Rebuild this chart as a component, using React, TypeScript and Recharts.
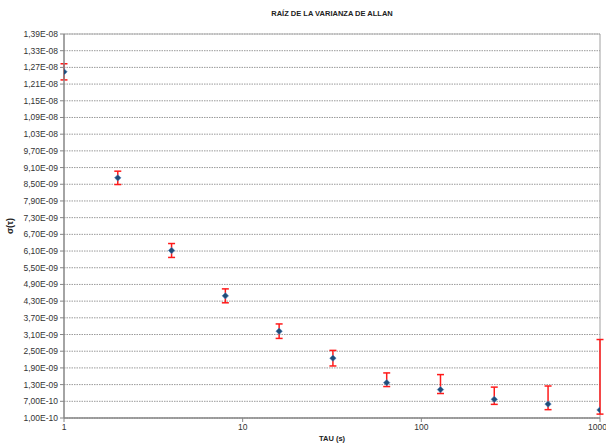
import React from 'react';
import { ScatterChart, Scatter, XAxis, YAxis, CartesianGrid, ErrorBar, ReferenceLine, Label } from 'recharts';

// tau values (s)
const taus = [1, 2, 4, 8, 16, 32, 64, 128, 256, 512, 1000];
// Allan deviation
const sigmas = [1.254e-8, 8.73e-9, 6.12e-9, 4.49e-9, 3.22e-9, 2.25e-9, 1.37e-9, 1.12e-9, 7.7e-10, 6.0e-10, 3.9e-10];
// error bars [below, above]
const errLow = [2.9e-10, 2.4e-10, 2.5e-10, 2.5e-10, 2.6e-10, 2.8e-10, 1.4e-10, 1.4e-10, 1.8e-10, 2.0e-10, 1.5e-10];
const errHigh = [2.9e-10, 2.4e-10, 2.5e-10, 2.5e-10, 2.6e-10, 2.8e-10, 3.5e-10, 5.4e-10, 4.4e-10, 6.5e-10, 2.53e-9];

const xTicks = [1, 10, 100, 1000];
const yTicks = [
  1.0e-10, 7.0e-10, 1.3e-9, 1.9e-9, 2.5e-9, 3.1e-9, 3.7e-9, 4.3e-9, 4.9e-9, 5.5e-9, 6.1e-9, 6.7e-9,
  7.3e-9, 7.9e-9, 8.5e-9, 9.1e-9, 9.7e-9, 1.03e-8, 1.09e-8, 1.15e-8, 1.21e-8, 1.27e-8, 1.33e-8, 1.39e-8,
];

const data = taus.map((t, i) => ({ tau: t, sigma: sigmas[i], err: [errLow[i], errHigh[i]] }));

const fmtY = (v: number) => {
  const [m, e] = v.toExponential(2).split('e');
  const exp = parseInt(e, 10);
  const sign = exp < 0 ? '-' : '+';
  return `${m.replace('.', ',')}E${sign}${String(Math.abs(exp)).padStart(2, '0')}`;
};

const font = '"Liberation Sans", Arial, sans-serif';

const Marker = (props: any) => {
  const { cx, cy } = props;
  const r = 3.2;
  return (
    <path
      d={`M${cx},${cy - r}L${cx + r},${cy}L${cx},${cy + r}L${cx - r},${cy}Z`}
      fill="#1F4E79"
      stroke="#4A7EBB"
      strokeWidth={0.6}
    />
  );
};

export default function App() {
  return (
    <div style={{ position: 'absolute', left: 0, top: 0, width: 606, height: 447, background: '#fff', fontFamily: font }}>
      {/* Title */}
      <div
        style={{
          position: 'absolute', left: 64, width: 536, top: 9, textAlign: 'center',
          fontSize: 7.5, fontWeight: 'bold', color: '#222',
        }}
      >
        RAÍZ DE LA VARIANZA DE ALLAN
      </div>
      {/* X axis title */}
      <div
        style={{
          position: 'absolute', left: 64, width: 536, top: 434, textAlign: 'center',
          fontSize: 7.5, fontWeight: 'bold', color: '#222', lineHeight: '10px',
        }}
      >
        TAU (s)
      </div>
      <ScatterChart width={606} height={447} margin={{ top: 34, right: 6, bottom: 0, left: 0 }}>
        <CartesianGrid vertical={false} stroke="#9a9a9a" strokeDasharray="1.5 1" />
        <XAxis
          dataKey="tau"
          type="number"
          scale="log"
          domain={[1, 1000]}
          ticks={xTicks}
          allowDataOverflow
          height={29}
          tick={{ fontSize: 8.5, fill: '#333', fontFamily: font }}
          tickSize={4}
          axisLine={{ stroke: '#868686', strokeWidth: 1.5 }}
          tickLine={{ stroke: '#868686' }}
        />
        <YAxis
          dataKey="sigma"
          type="number"
          domain={[1e-10, 1.39e-8]}
          ticks={yTicks}
          interval={0}
          width={64}
          tickFormatter={fmtY}
          tick={{ fontSize: 8.5, fill: '#333', fontFamily: font }}
          tickSize={4}
          tickMargin={2}
          axisLine={{ stroke: '#868686', strokeWidth: 1.5 }}
          tickLine={{ stroke: '#868686' }}
        >
          <Label value="σ(τ)" angle={-90} position="insideLeft" offset={10} style={{ fontSize: 9, fontWeight: 'bold', fill: '#222', fontFamily: font, textAnchor: 'middle' }} />
        </YAxis>
        <ReferenceLine y={1.39e-8} stroke="#b0b0b0" />
        <ReferenceLine x={1000} stroke="#a0a0a0" />
        <Scatter data={data} shape={<Marker />} isAnimationActive={false}>
          <ErrorBar dataKey="err" direction="y" width={3.5} stroke="#FF1a1a" strokeWidth={1.5} />
        </Scatter>
      </ScatterChart>
    </div>
  );
}
